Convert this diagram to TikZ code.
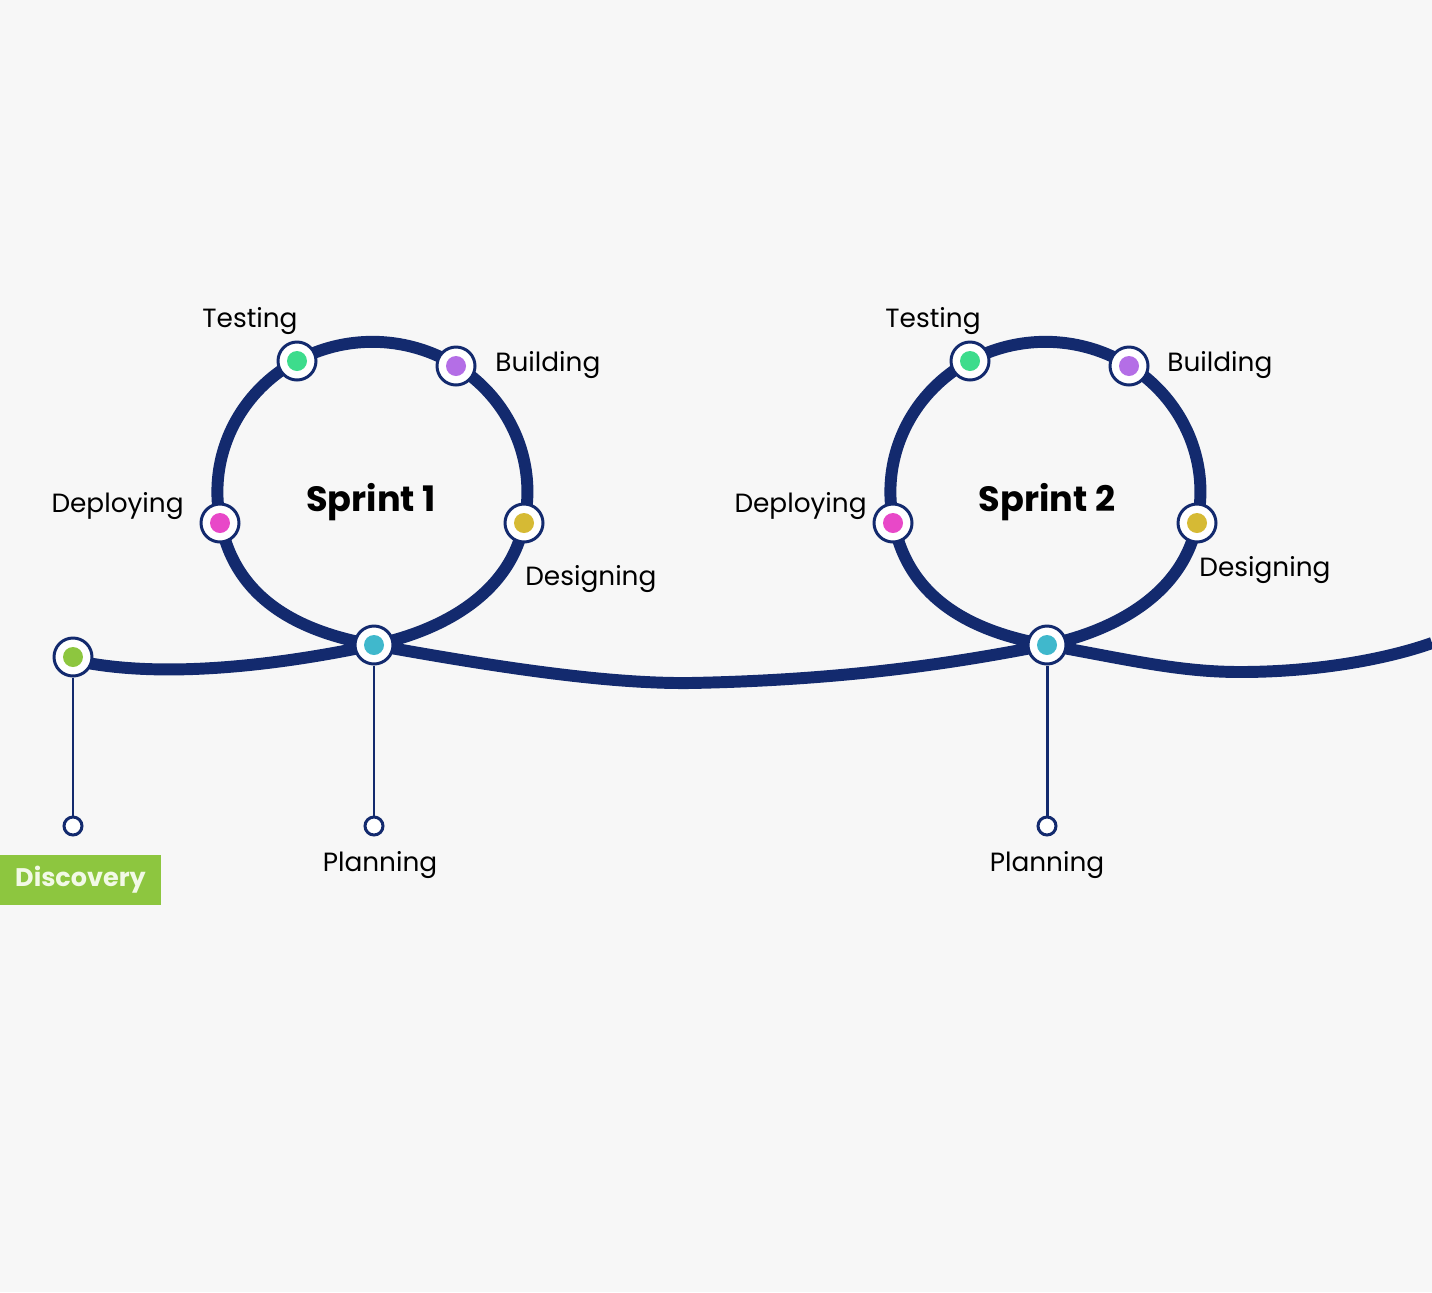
\documentclass[tikz,border=0pt]{standalone}
\usepackage{fontspec}
\setmainfont{Poppins}
\definecolor{navy}{RGB}{19,42,110}
\definecolor{paper}{RGB}{247,247,247}
\definecolor{testgreen}{RGB}{61,220,140}
\definecolor{buildpurple}{RGB}{180,110,230}
\definecolor{deploypink}{RGB}{232,72,200}
\definecolor{designyellow}{RGB}{214,186,52}
\definecolor{plancyan}{RGB}{64,184,204}
\definecolor{discolime}{RGB}{141,198,63}
\tikzset{
  milestone/.style={circle, draw=navy, fill=white, line width=1.7pt, minimum size=0.76cm, inner sep=0pt},
  stagedot/.style={circle, fill=#1, minimum size=0.4cm, inner sep=0pt},
  endring/.style={circle, draw=navy, fill=white, line width=1.7pt, minimum size=0.36cm, inner sep=0pt},
  stage/.style={font=\fontsize{15}{18}\selectfont, text=black, inner sep=0pt},
  sprint/.style={font=\bfseries\fontsize{20}{24}\selectfont, text=black, inner sep=0pt},
  track/.style={draw=navy, line width=6.8pt},
  stem/.style={draw=navy, line width=1.7pt},
}
\newcommand{\milestone}[3]{% name, position, colour
  \node[milestone] (#1) at #2 {};
  \node[stagedot=#3] at (#1) {};
}
\begin{document}
\begin{tikzpicture}[x=0.02cm, y=-0.02cm]
  \fill[paper] (0,0) rectangle (1432,1292);
  \useasboundingbox (0,0) rectangle (1432,1292);

  % the track with its two loops
  \draw[track] (73,660) .. controls (160,680) and (280,665) .. (374,645)
    .. controls (440,631) and (510,595) .. (524,523)
    arc[start angle=12, end angle=-192, x radius=155, y radius=150]
    .. controls (236,600) and (300,632) .. (374,645)
    .. controls (480,664) and (600,684) .. (690,683)
    .. controls (850,680) and (960,662) .. (1047,645)
    .. controls (1113,631) and (1183,595) .. (1197,523)
    arc[start angle=12, end angle=-192, x radius=155, y radius=150]
    .. controls (909,600) and (973,632) .. (1047,645)
    .. controls (1130,660) and (1180,672) .. (1240,672)
    .. controls (1320,672) and (1390,658) .. (1432,643);

  % stems
  \node[endring] (discoend) at (73,826) {};
  \node[endring] (plan1end) at (374,826) {};
  \node[endring] (plan2end) at (1047,826) {};

  \milestone{disco}{(73,657)}{discolime}
  \milestone{plan1}{(374,645)}{plancyan}
  \milestone{plan2}{(1047,645)}{plancyan}
  \draw[stem] (disco) -- (discoend);
  \draw[stem] (plan1) -- (plan1end);
  \draw[stem] (plan2) -- (plan2end);

  % sprint 1
  \milestone{test1}{(297,361)}{testgreen}
  \milestone{build1}{(456,366)}{buildpurple}
  \milestone{deploy1}{(220,523)}{deploypink}
  \milestone{design1}{(524,523)}{designyellow}
  \node[sprint] (sprint1) at (371,502) {Sprint 1};
  \node[stage] at (250,321) {Testing};
  \node[stage, anchor=west] at (495,365) {Building};
  \node[stage, anchor=east] at (184,506) {Deploying};
  \node[stage, anchor=west] at (525,579) {Designing};
  \node[stage] at (380,865) {Planning};

  % sprint 2
  \milestone{test2}{(970,361)}{testgreen}
  \milestone{build2}{(1129,366)}{buildpurple}
  \milestone{deploy2}{(893,523)}{deploypink}
  \milestone{design2}{(1197,523)}{designyellow}
  \node[sprint] (sprint2) at (1047,502) {Sprint 2};
  \node[stage] at (933,321) {Testing};
  \node[stage, anchor=west] at (1167,365) {Building};
  \node[stage, anchor=east] at (867,506) {Deploying};
  \node[stage, anchor=west] at (1199,570) {Designing};
  \node[stage] at (1047,865) {Planning};

  % discovery tag
  \node[fill=discolime, text={rgb,255:red,242;green,249;blue,230}, font=\bfseries\fontsize{14.5}{18}\selectfont,
    minimum width=3.22cm, minimum height=1cm, inner sep=0pt] (disco tag) at (80.5,880) {\raisebox{-1pt}{Discovery}};
\end{tikzpicture}
\end{document}
